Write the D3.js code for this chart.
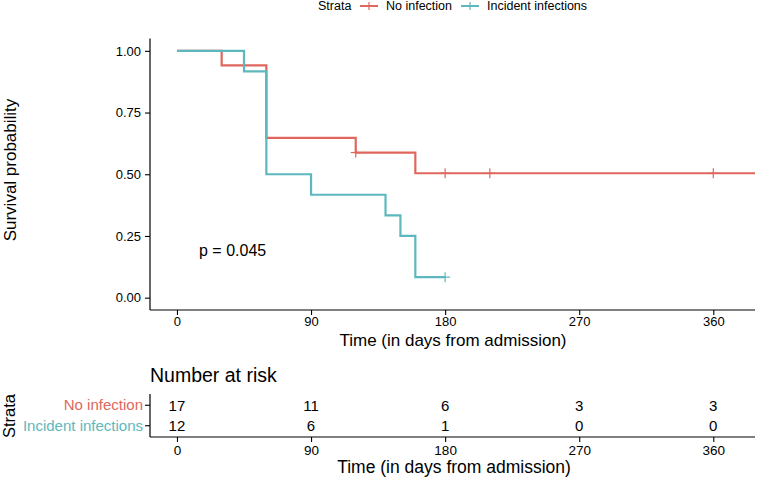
<!DOCTYPE html>
<html><head><meta charset="utf-8">
<script src="https://cdn.jsdelivr.net/npm/d3@7"></script>
<style>body{margin:0;background:#fff}svg{display:block;font-family:"Liberation Sans",Arial,sans-serif}</style>
</head><body><svg id="c" width="757" height="480"></svg>
<script>
const strata = ["No infection", "Incident infections"];
const colors = ["#DF675D", "#5DB8BE"];
// step curves: time, survival
const noInfTimes = [0, 30, 60, 120, 160, 388];
const noInfSurv  = [1.0, 0.941, 0.647, 0.588, 0.504, 0.504];
const noInfCensT = [120, 180, 210, 360];
const noInfCensS = [0.588, 0.504, 0.504, 0.504];
const incTimes = [0, 45, 60, 90, 140, 150, 160, 180];
const incSurv  = [1.0, 0.917, 0.5, 0.417, 0.333, 0.25, 0.083, 0.083];
const incCensT = [180];
const incCensS = [0.083];
const xTicks = [0, 90, 180, 270, 360];
const yTicks = [0, 0.25, 0.5, 0.75, 1.0];
const riskNoInf = [17, 11, 6, 3, 3];
const riskInc = [12, 6, 1, 0, 0];
const pText = "p = 0.045";

const svg = d3.select("#c");
const x = d3.scaleLinear().domain([-18.1, 388]).range([150, 755]);
const y = d3.scaleLinear().domain([-0.05, 1.05]).range([310, 38.5]);

// legend
const lg = svg.append("g").attr("font-size", 12.5);
lg.append("text").attr("x", 318).attr("y", 10).text("Strata");
[[360, 386, 0], [461, 487, 1]].forEach(([kx, tx, i]) => {
  lg.append("line").attr("x1", kx).attr("x2", kx + 18).attr("y1", 6).attr("y2", 6).attr("stroke", colors[i]).attr("stroke-width", 2);
  lg.append("line").attr("x1", kx + 9).attr("x2", kx + 9).attr("y1", 2).attr("y2", 10).attr("stroke", colors[i]).attr("stroke-width", 1.2);
  lg.append("text").attr("x", tx).attr("y", 10).text(strata[i]);
});

// axes main
const gy = svg.append("g").attr("transform", "translate(150,0)")
  .call(d3.axisLeft(y).tickValues(yTicks).tickFormat(d3.format(".2f")).tickSize(5).tickPadding(4));
const gx = svg.append("g").attr("transform", "translate(0,310)")
  .call(d3.axisBottom(x).tickValues(xTicks).tickSize(5).tickPadding(2));
[gx, gy].forEach(g => {
  g.select(".domain").attr("stroke", "#000").attr("stroke-width", 1.2);
  g.selectAll(".tick line").attr("stroke", "#000").attr("stroke-width", 1.1);
  g.selectAll("text").attr("font-size", 13).attr("fill", "#000").attr("font-family", "Liberation Sans, Arial, sans-serif");
});
gy.select(".domain").attr("d", "M0,38.5V310");
gx.select(".domain").attr("d", "M150,0H755");

svg.append("text").attr("transform", "translate(16,170) rotate(-90)").attr("text-anchor", "middle").attr("font-size", 17).text("Survival probability");
svg.append("text").attr("x", 453).attr("y", 346).attr("text-anchor", "middle").attr("font-size", 17).text("Time (in days from admission)");

const line = d3.line().x(d => x(d[0])).y(d => y(d[1])).curve(d3.curveStepAfter);
const series = [
  [noInfTimes, noInfSurv, noInfCensT, noInfCensS],
  [incTimes, incSurv, incCensT, incCensS]
];
series.forEach(([t, s, ct, cs], i) => {
  svg.append("path").datum(t.map((d, j) => [d, s[j]])).attr("d", line)
    .attr("fill", "none").attr("stroke", colors[i]).attr("stroke-width", 2.2);
  ct.forEach((d, j) => {
    svg.append("line").attr("x1", x(d)).attr("x2", x(d)).attr("y1", y(cs[j]) - 5).attr("y2", y(cs[j]) + 5)
      .attr("stroke", colors[i]).attr("stroke-width", 1.2);
    svg.append("line").attr("x1", x(d) - 5).attr("x2", x(d) + 5).attr("y1", y(cs[j])).attr("y2", y(cs[j]))
      .attr("stroke", colors[i]).attr("stroke-width", 1.2);
  });
});
svg.append("text").attr("x", 199).attr("y", 256).attr("font-size", 16).text(pText);

// risk table
svg.append("text").attr("x", 150).attr("y", 382).attr("font-size", 19.5).text("Number at risk");
const yr = d3.scaleBand().domain(strata).range([394, 437]).paddingOuter(0.05);
const gry = svg.append("g").attr("transform", "translate(150,0)")
  .call(d3.axisLeft(yr).tickSize(5).tickPadding(2));
const grx = svg.append("g").attr("transform", "translate(0,437)")
  .call(d3.axisBottom(x).tickValues(xTicks).tickSize(5).tickPadding(3));
[gry, grx].forEach(g => {
  g.select(".domain").attr("stroke", "#000").attr("stroke-width", 1.2);
  g.selectAll(".tick line").attr("stroke", "#000").attr("stroke-width", 1.1);
  g.selectAll("text").attr("font-size", 13.5).attr("fill", "#000").attr("font-family", "Liberation Sans, Arial, sans-serif");
});
gry.selectAll(".tick text").attr("font-size", 15);
gry.select(".domain").attr("d", "M0,394V437");
grx.select(".domain").attr("d", "M150,0H755");
gry.selectAll(".tick text").attr("fill", (d) => colors[strata.indexOf(d)]);
svg.append("text").attr("transform", "translate(15,416) rotate(-90)").attr("text-anchor", "middle").attr("font-size", 16.5).text("Strata");
svg.append("text").attr("x", 454).attr("y", 473).attr("text-anchor", "middle").attr("font-size", 17.5).text("Time (in days from admission)");
[riskNoInf, riskInc].forEach((vals, i) => {
  svg.append("g").selectAll("text").data(vals).join("text")
    .attr("x", (d, j) => x(xTicks[j])).attr("y", yr(strata[i]) + yr.bandwidth() / 2 + 5.5)
    .attr("text-anchor", "middle").attr("font-size", 15).text(d => d);
});
</script></body></html>
